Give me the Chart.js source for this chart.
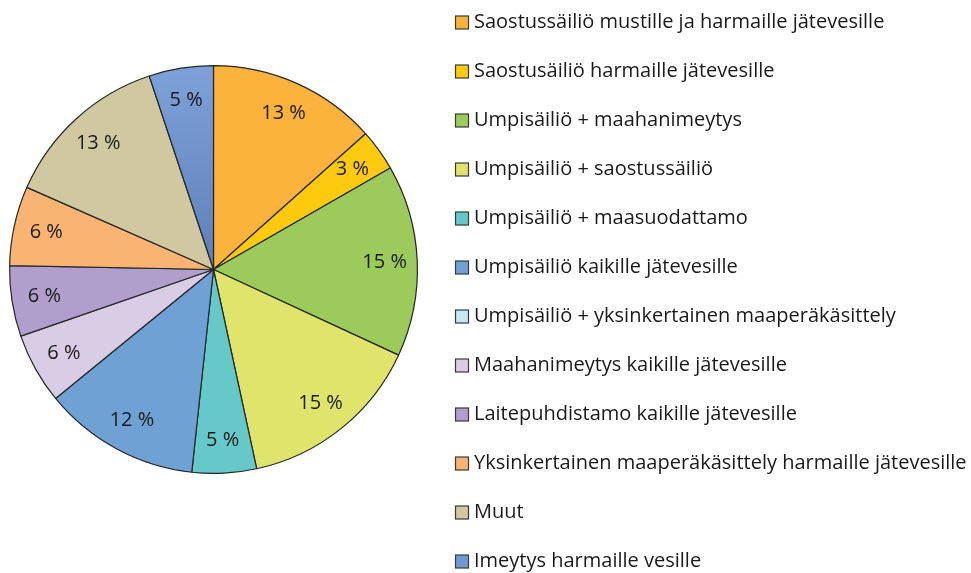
<!DOCTYPE html>
<html>
<head>
<meta charset="utf-8">
<script src="https://cdn.jsdelivr.net/npm/chart.js@4/dist/chart.umd.min.js"></script>
<style>
  html, body { margin: 0; padding: 0; background: #fff; }
  #wrap { width: 971px; height: 573px; position: relative; }
</style>
</head>
<body>
<div id="wrap"><canvas id="chart" width="971" height="573"></canvas></div>
<script>
const labels = [
  'Saostussäiliö mustille ja harmaille jätevesille',
  'Saostusäiliö harmaille jätevesille',
  'Umpisäiliö + maahanimeytys',
  'Umpisäiliö + saostussäiliö',
  'Umpisäiliö + maasuodattamo',
  'Umpisäiliö kaikille jätevesille',
  'Umpisäiliö + yksinkertainen maaperäkäsittely',
  'Maahanimeytys kaikille jätevesille',
  'Laitepuhdistamo kaikille jätevesille',
  'Yksinkertainen maaperäkäsittely harmaille jätevesille',
  'Muut',
  'Imeytys harmaille vesille'
];
const shares = [13.4, 3.3, 15.2, 14.7, 5.1, 12.4, 0, 5.6, 5.6, 6.3, 13.3, 5.1];
const colors = [
  '#fbb33c', '#fdca0e', '#9ccb5c', '#dfe46a', '#67c8ca', '#70a1d4',
  '#c6e9f0', '#d9cde6', '#b09fcc', '#f9b372', '#d0c8a1', '#7199d0'
];

const FONT = '"Open Sans", "Liberation Sans", sans-serif';

function sliceColor(ctx) {
  const i = ctx.dataIndex;
  const area = ctx.chart.chartArea;
  if (i !== 11 || !area) return colors[i];
  // last slice has a light-to-dark gradient towards the centre
  const g = ctx.chart.ctx.createLinearGradient(0, area.top, 0, (area.top + area.bottom) / 2);
  g.addColorStop(0, '#7ea1d9');
  g.addColorStop(1, '#5e80b8');
  return g;
}

const pctLabels = {
  id: 'pctLabels',
  afterDatasetsDraw(chart) {
    const c = chart.ctx;
    const meta = chart.getDatasetMeta(0);
    c.save();
    c.font = '20px ' + FONT;
    c.fillStyle = '#1a1a1a';
    c.textAlign = 'center';
    c.textBaseline = 'middle';
    meta.data.forEach((arc, i) => {
      const v = shares[i];
      if (!v) return;
      const p = arc.getProps(['x', 'y', 'startAngle', 'endAngle', 'outerRadius'], true);
      const mid = (p.startAngle + p.endAngle) / 2;
      const r = p.outerRadius * 0.84;
      c.fillText(Math.round(v) + ' %', p.x + Math.cos(mid) * r, p.y + Math.sin(mid) * r);
    });
    c.restore();
  }
};

const sideLegend = {
  id: 'sideLegend',
  afterDraw(chart) {
    const c = chart.ctx;
    c.save();
    c.font = '20px ' + FONT;
    c.textBaseline = 'middle';
    c.textAlign = 'left';
    labels.forEach((txt, i) => {
      const y = 22.5 + i * 49;
      c.fillStyle = colors[i];
      c.fillRect(455.5, y - 6.5, 13, 13);
      c.strokeStyle = '#3a3a3a';
      c.lineWidth = 1.2;
      c.strokeRect(455.5, y - 6.5, 13, 13);
      c.fillStyle = '#1a1a1a';
      c.fillText(txt, 474, y);
    });
    c.restore();
  }
};

new Chart(document.getElementById('chart'), {
  type: 'pie',
  data: {
    labels: labels,
    datasets: [{
      data: shares,
      backgroundColor: sliceColor,
      borderColor: '#262626',
      borderWidth: 1.2
    }]
  },
  options: {
    responsive: false,
    animation: false,
    layout: { padding: { left: 9, right: 553, top: 65, bottom: 99 } },
    plugins: {
      legend: { display: false },
      tooltip: { enabled: false }
    }
  },
  plugins: [pctLabels, sideLegend]
});
</script>
</body>
</html>
